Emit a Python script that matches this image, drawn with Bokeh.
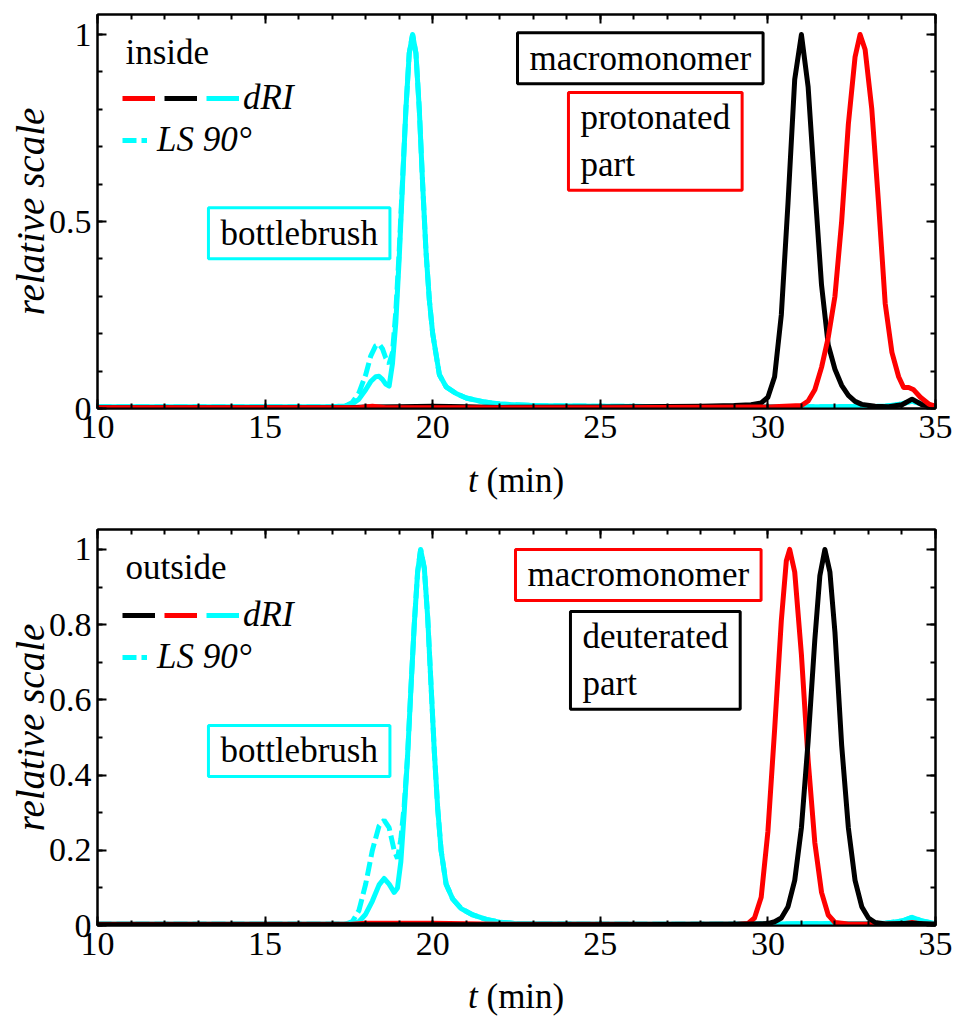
from bokeh.plotting import figure
from bokeh.models import (Range1d, SingleIntervalTicker, LinearAxis, Legend, LegendItem,
                          Label, CustomJSTickFormatter, ColumnDataSource, Div)
from bokeh.layouts import column
from bokeh.embed import file_html
from bokeh.resources import INLINE

# ---------------- data ----------------
TOP_CYAN_T = [10, 12, 14, 16, 17, 17.4, 17.6, 17.8, 18.0, 18.15, 18.3, 18.4, 18.5, 18.6, 18.7,
              18.8, 18.9, 19.0, 19.1, 19.2, 19.3, 19.4, 19.5, 19.6, 19.7, 19.8, 19.9, 20.0, 20.2, 20.4,
              20.7, 21.0, 21.5, 22, 23, 25, 28, 30, 32, 33.5, 34.0, 34.3, 34.6, 35]
TOP_DRI = [0.005, 0.005, 0.005, 0.005, 0.005, 0.007, 0.012, 0.025, 0.05, 0.072, 0.085, 0.086, 0.078, 0.065, 0.06,
           0.12, 0.23, 0.4, 0.6, 0.8, 0.95, 1.0, 0.95, 0.8, 0.6, 0.42, 0.29, 0.2, 0.09, 0.058,
           0.04, 0.028, 0.018, 0.012, 0.008, 0.006, 0.005, 0.005, 0.005, 0.006, 0.012, 0.02, 0.012, 0.006]
TOP_LS = [0.005, 0.005, 0.005, 0.005, 0.005, 0.007, 0.016, 0.042, 0.09, 0.14, 0.168, 0.172, 0.16, 0.135, 0.12,
          0.15, 0.26, 0.42, 0.61, 0.8, 0.95, 1.0, 0.95, 0.8, 0.6, 0.42, 0.29, 0.2, 0.09, 0.058,
          0.04, 0.028, 0.018, 0.012, 0.008, 0.006, 0.005, 0.005, 0.005, 0.006, 0.012, 0.02, 0.012, 0.006]
TOP_BLACK_T = [10, 17.5, 18.0, 19.0, 20.0, 21.0, 22.0, 25, 28, 29, 29.5, 29.8, 30.0, 30.2, 30.4, 30.6, 30.8,
               31.0, 31.2, 31.4, 31.6, 31.8, 32.0, 32.2, 32.4, 32.6, 32.8, 33.2, 33.6, 34.0, 34.3, 34.6, 35]
TOP_BLACK = [0.002, 0.002, 0.004, 0.005, 0.006, 0.005, 0.003, 0.004, 0.006, 0.008, 0.01, 0.015, 0.03, 0.085,
             0.25, 0.55, 0.88, 1.0, 0.86, 0.59, 0.33, 0.17, 0.105, 0.062, 0.035, 0.019, 0.011, 0.006, 0.005,
             0.01, 0.025, 0.01, 0.004]
TOP_RED_T = [10, 17.8, 18.2, 18.6, 20, 25, 30, 31.0, 31.2, 31.4, 31.6, 31.8, 32.0, 32.2, 32.4, 32.6, 32.75,
             32.9, 33.1, 33.3, 33.5, 33.7, 33.9, 34.05, 34.2, 34.35, 34.55, 34.8, 35]
TOP_RED = [0.002, 0.002, 0.006, 0.002, 0.002, 0.002, 0.004, 0.008, 0.02, 0.05, 0.11, 0.19, 0.3, 0.5, 0.76,
           0.94, 1.0, 0.96, 0.8, 0.55, 0.28, 0.15, 0.085, 0.056, 0.056, 0.05, 0.03, 0.012, 0.006]

BOT_CYAN_T = [10, 12, 14, 16, 17, 17.4, 17.6, 17.8, 18.0, 18.2, 18.4, 18.55, 18.7, 18.85, 18.95,
              19.05, 19.15, 19.25, 19.35, 19.45, 19.55, 19.64, 19.75, 19.85, 19.95, 20.05, 20.15, 20.25,
              20.4, 20.6, 20.85, 21.2, 21.6, 22.0, 22.5, 25, 28, 30, 32, 33.5, 34.0, 34.3, 34.6, 35]
BOT_DRI = [0.004, 0.004, 0.004, 0.004, 0.004, 0.004, 0.005, 0.01, 0.03, 0.065, 0.108, 0.125, 0.11, 0.088, 0.1,
           0.17, 0.3, 0.45, 0.63, 0.8, 0.94, 1.0, 0.95, 0.82, 0.64, 0.46, 0.31, 0.2,
           0.11, 0.07, 0.045, 0.028, 0.016, 0.009, 0.005, 0.004, 0.004, 0.004, 0.005, 0.006, 0.012, 0.022, 0.012, 0.005]
BOT_LS = [0.004, 0.004, 0.004, 0.004, 0.004, 0.004, 0.01, 0.04, 0.11, 0.2, 0.265, 0.28, 0.26, 0.2, 0.178,
          0.23, 0.32, 0.45, 0.63, 0.8, 0.94, 1.0, 0.95, 0.82, 0.64, 0.46, 0.31, 0.2,
          0.11, 0.07, 0.045, 0.028, 0.016, 0.009, 0.005, 0.004, 0.004, 0.004, 0.005, 0.006, 0.012, 0.022, 0.012, 0.005]
BOT_RED_T = [10, 17.5, 18.0, 20.0, 22.0, 25, 29.0, 29.4, 29.6, 29.8, 30.0, 30.2, 30.4, 30.55, 30.65, 30.8,
             31.0, 31.2, 31.4, 31.6, 31.8, 32.0, 32.4, 34.0, 34.3, 34.6, 35]
BOT_RED = [0.003, 0.003, 0.006, 0.006, 0.003, 0.003, 0.003, 0.005, 0.02, 0.075, 0.25, 0.52, 0.81, 0.97, 1.0,
           0.94, 0.72, 0.44, 0.22, 0.088, 0.028, 0.008, 0.004, 0.004, 0.008, 0.004, 0.003]
BOT_BLACK_T = [10, 20, 25, 29, 30.0, 30.2, 30.4, 30.6, 30.8, 31.0, 31.2, 31.4, 31.55, 31.7, 31.85, 32.0,
               32.2, 32.4, 32.6, 32.8, 33.0, 33.2, 33.5, 34.3, 35]
BOT_BLACK = [0.002, 0.002, 0.002, 0.003, 0.005, 0.01, 0.02, 0.05, 0.12, 0.26, 0.49, 0.76, 0.93, 1.0, 0.94,
             0.78, 0.48, 0.26, 0.12, 0.05, 0.02, 0.008, 0.004, 0.006, 0.003]

X_RANGE = (10, 35)
TOP_Y_INTERVAL = 0.5
BOT_Y_INTERVAL = 0.2

SERIF = "Liberation Serif"
RED = "#ff0000"
BLACK = "#000000"
CYAN = "#00ffff"
LW = 5
FS = "35px"
TICK_FS = "34px"
FMT = "return (Math.round(tick * 1000) / 1000).toString();"


def style_axis(ax, ticker, show):
    ax.ticker = ticker
    ax.formatter = CustomJSTickFormatter(code=FMT)
    ax.axis_line_width = 2
    ax.axis_line_color = "black"
    ax.major_tick_line_width = 2
    ax.minor_tick_line_width = 2
    ax.major_tick_in = 9
    ax.major_tick_out = 0
    ax.minor_tick_in = 5
    ax.minor_tick_out = 0
    ax.major_label_text_font = SERIF
    if show:
        ax.major_label_text_color = "black"
        ax.major_label_text_font_size = TICK_FS
    else:
        ax.major_label_text_color = None
        ax.major_label_text_font_size = "1px"
        ax.major_label_standoff = 0


def make_panel(height, top_border, bottom_border, y_interval, y_minor, curves, legend_order, title,
               boxes, ymax):
    p = figure(width=956, height=height, x_range=Range1d(*X_RANGE), y_range=Range1d(0, ymax),
               output_backend="svg", toolbar_location=None,
               min_border_left=97, min_border_right=21,
               min_border_top=top_border, min_border_bottom=bottom_border)
    p.xgrid.visible = False
    p.ygrid.visible = False
    p.outline_line_color = "black"
    p.outline_line_width = 2
    p.background_fill_color = "white"
    p.border_fill_color = "white"

    style_axis(p.xaxis[0], SingleIntervalTicker(interval=5, num_minor_ticks=5), True)
    p.xaxis[0].major_label_standoff = 7
    style_axis(p.yaxis[0], SingleIntervalTicker(interval=y_interval, num_minor_ticks=y_minor), True)
    p.yaxis[0].major_label_standoff = 6
    p.yaxis[0].axis_label = "relative scale"
    p.yaxis[0].axis_label_text_font = SERIF
    p.yaxis[0].axis_label_text_font_style = "italic"
    p.yaxis[0].axis_label_text_font_size = "39px"
    p.yaxis[0].axis_label_text_color = "black"
    p.yaxis[0].axis_label_standoff = -6

    top_ax = LinearAxis()
    style_axis(top_ax, SingleIntervalTicker(interval=5, num_minor_ticks=5), False)
    p.add_layout(top_ax, "above")
    right_ax = LinearAxis()
    style_axis(right_ax, SingleIntervalTicker(interval=y_interval, num_minor_ticks=y_minor), False)
    p.add_layout(right_ax, "right")

    (ct, dri, ls), others = curves
    src = ColumnDataSource(dict(t=ct, dri=dri, ls=ls))
    r_ls = p.line("t", "ls", source=src, line_color=CYAN, line_width=LW, line_dash="14 5")
    r_cy = p.line("t", "dri", source=src, line_color=CYAN, line_width=LW, line_join="round")
    rends = {"cyan": r_cy}
    for name, (tt, yy, col) in others.items():
        s = ColumnDataSource(dict(t=tt, v=yy))
        rends[name] = p.line("t", "v", source=s, line_color=col, line_width=LW, line_join="round")

    items = [LegendItem(label="", renderers=[rends[k]]) for k in legend_order]
    items.append(LegendItem(label="dRI", renderers=[r_cy]))
    leg_common = dict(glyph_height=20, label_width=0, padding=0, margin=0,
                      border_line_color=None, background_fill_alpha=0,
                      label_text_font=SERIF, label_text_font_style="italic",
                      label_text_font_size=FS, label_text_color="black")
    leg1 = Legend(items=items, orientation="horizontal", location=(25, 290),
                  glyph_width=33, label_standoff=4, spacing=5, **leg_common)
    leg2 = Legend(items=[LegendItem(label="LS 90°", renderers=[r_ls])], location=(25, 248),
                  glyph_width=25, label_standoff=10, spacing=0, **leg_common)
    p.add_layout(leg1, "center")
    p.add_layout(leg2, "center")

    tx, ty = title
    p.add_layout(Label(x=tx[0], y=tx[1], text=ty, anchor="top_left", text_font=SERIF,
                       text_font_size=FS, text_color="black"))
    for (bx, by, text, col) in boxes:
        p.add_layout(Label(x=bx, y=by, text=text, anchor="top_left", text_font=SERIF,
                           text_font_size=FS, text_color="black", border_line_color=col,
                           border_line_width=3, background_fill_color="white",
                           padding=dict(left=12, right=12, top=6, bottom=6)))
    return p


def xlabel(height, pad_top):
    html = ('<div style="font-family:\'Liberation Serif\'; font-size:35px; line-height:35px; '
            'color:#000; padding-top:%dpx; padding-left:468px; white-space:nowrap;">'
            '<i>t</i> (min)</div>' % pad_top)
    return Div(text=html, width=956, height=height, margin=0)


top = make_panel(458, 14, 50, TOP_Y_INTERVAL, 5,
                 ((TOP_CYAN_T, TOP_DRI, TOP_LS),
                  {"black": (TOP_BLACK_T, TOP_BLACK, BLACK), "red": (TOP_RED_T, TOP_RED, RED)}),
                 ["red", "black"], ((10.835, 1.005), "inside"),
                 [(13.31, 0.537, "bottlebrush", CYAN),
                  (22.53, 1.005, "macromonomer", BLACK),
                  (24.05, 0.845, "protonated\npart", RED)],
                 1.0535)

bot = make_panel(467, 21, 50, BOT_Y_INTERVAL, 2,
                 ((BOT_CYAN_T, BOT_DRI, BOT_LS),
                  {"red": (BOT_RED_T, BOT_RED, RED), "black": (BOT_BLACK_T, BOT_BLACK, BLACK)}),
                 ["black", "red"], ((10.835, 1.0027), "outside"),
                 [(13.31, 0.532, "bottlebrush", CYAN),
                  (22.47, 1.0, "macromonomer", RED),
                  (24.11, 0.835, "deuterated\npart", BLACK)],
                 1.053)

layout = column(top, xlabel(50, 5), bot, xlabel(41, 4), spacing=0)
open("out.html", "w").write(file_html(layout, INLINE))
